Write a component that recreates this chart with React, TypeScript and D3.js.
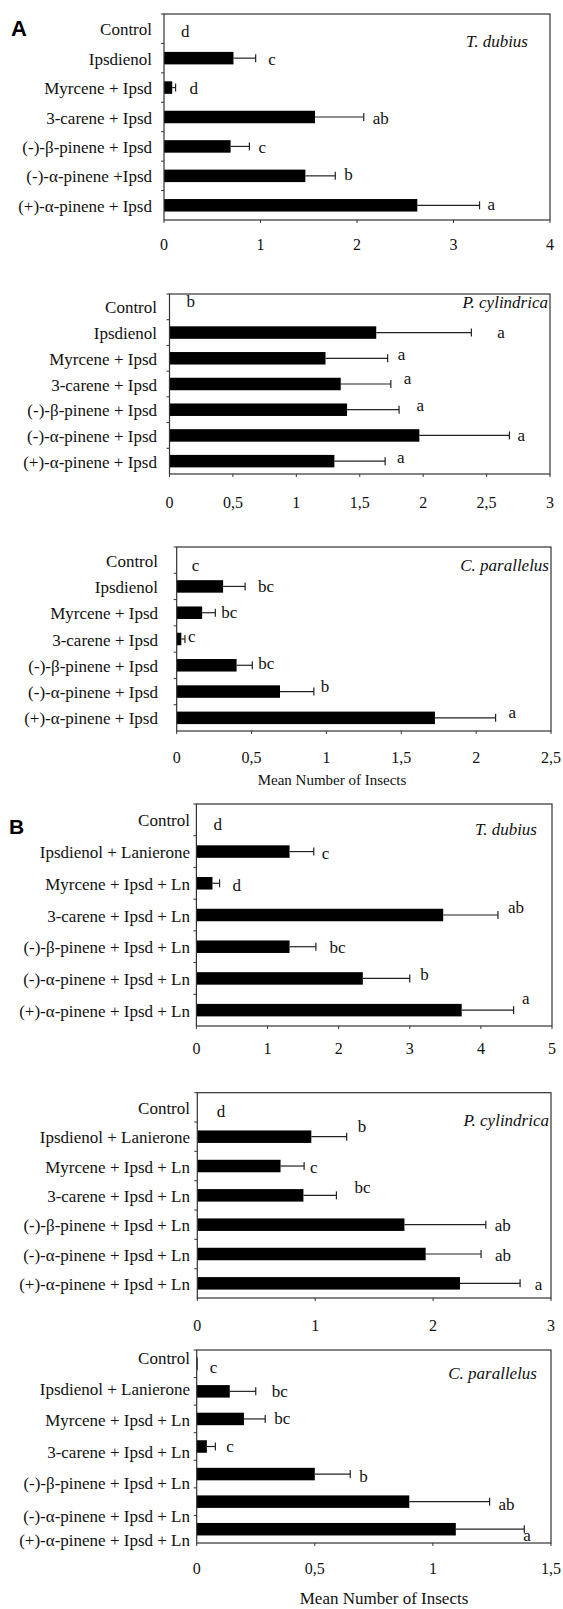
import React from "react";
import * as d3 from "d3";

// ---------- data ----------
const labelsA1 = ["Control", "Ipsdienol", "Myrcene + Ipsd", "3-carene + Ipsd", "(-)-β-pinene + Ipsd", "(-)-α-pinene +Ipsd", "(+)-α-pinene + Ipsd"];
const labelsA = ["Control", "Ipsdienol", "Myrcene + Ipsd", "3-carene + Ipsd", "(-)-β-pinene + Ipsd", "(-)-α-pinene + Ipsd", "(+)-α-pinene + Ipsd"];
const labelsB = ["Control", "Ipsdienol + Lanierone", "Myrcene + Ipsd + Ln", "3-carene + Ipsd + Ln", "(-)-β-pinene + Ipsd + Ln", "(-)-α-pinene + Ipsd + Ln", "(+)-α-pinene + Ipsd + Ln"];

const meansA1 = [0, 0.72, 0.085, 1.565, 0.69, 1.465, 2.625];
const seA1 = [0, 0.23, 0.035, 0.505, 0.195, 0.31, 0.645];
const lettersA1 = ["d", "c", "d", "ab", "c", "b", "a"];

const meansA2 = [0, 1.63, 1.23, 1.35, 1.4, 1.97, 1.3];
const seA2 = [0, 0.75, 0.49, 0.395, 0.41, 0.71, 0.4];
const lettersA2 = ["b", "a", "a", "a", "a", "a", "a"];

const meansA3 = [0, 0.31, 0.17, 0.031, 0.4, 0.69, 1.725];
const seA3 = [0, 0.147, 0.088, 0.024, 0.105, 0.226, 0.405];
const lettersA3 = ["c", "bc", "bc", "c", "bc", "b", "a"];

const meansB1 = [0, 1.31, 0.226, 3.47, 1.31, 2.34, 3.73];
const seB1 = [0, 0.34, 0.1, 0.77, 0.37, 0.66, 0.73];
const lettersB1 = ["d", "c", "d", "ab", "bc", "b", "a"];

const meansB2 = [0, 0.967, 0.706, 0.9, 1.757, 1.937, 2.228];
const seB2 = [0, 0.3, 0.2, 0.28, 0.69, 0.47, 0.51];
const lettersB2 = ["d", "b", "c", "bc", "ab", "ab", "a"];

const meansB3 = [0.004, 0.14, 0.2, 0.043, 0.5, 0.9, 1.097];
const seB3 = [0, 0.11, 0.09, 0.036, 0.15, 0.34, 0.29];
const lettersB3 = ["c", "bc", "bc", "c", "b", "ab", "a"];

const speciesT = "T. dubius";
const speciesP = "P. cylindrica";
const speciesC = "C. parallelus";
const axisTitle = "Mean Number of Insects";

// ---------- layout / style ----------
const SERIF = "'Liberation Serif', 'Times New Roman', serif";
const SANS = "'Liberation Sans', Arial, sans-serif";

type Panel = {
  labels: string[]; means: number[]; se: number[]; letters: string[];
  species: string; max: number; step: number;
  x0: number; x1: number; y0: number; y1: number;
  labelX: number; tickY: number; spX: number; spY: number;
  lDx: number[]; lDy: number[]; catDy?: number[];
  title?: { x: number; y: number; size: number };
};

const panels: Panel[] = [
  { labels: labelsA1, means: meansA1, se: seA1, letters: lettersA1, species: speciesT, max: 4, step: 1,
    x0: 164, x1: 550, y0: 14, y1: 220, labelX: 152, tickY: 244, spX: 528, spY: 41,
    lDx: [17, 12.5, 14, 9, 9, 9, 8], lDy: [3, 1, 1, 1, 1, -1, -1] },
  { labels: labelsA, means: meansA2, se: seA2, letters: lettersA2, species: speciesP, max: 3, step: 0.5,
    x0: 169.5, x1: 550, y0: 294, y1: 474, labelX: 157, tickY: 502, spX: 548, spY: 302,
    lDx: [17, 26, 10, 13, 17.5, 8, 12], lDy: [-5, 0, -3.5, -6, -4.3, 0, -4] },
  { labels: labelsA, means: meansA3, se: seA3, letters: lettersA3, species: speciesC, max: 2.5, step: 0.5,
    x0: 176.7, x1: 551, y0: 547, y1: 731, labelX: 158, tickY: 757, spX: 549, spY: 565,
    lDx: [15, 13, 6, 3, 6, 7, 13], lDy: [5, 0, 0, -3, -2, -5, -5],
    title: { x: 332, y: 780, size: 15 } },
  { labels: labelsB, means: meansB1, se: seB1, letters: lettersB1, species: speciesT, max: 5, step: 1,
    x0: 196.4, x1: 552, y0: 804, y1: 1026, labelX: 190, tickY: 1048, spX: 537, spY: 829,
    lDx: [17, 8, 13, 10, 13.5, 10.5, 8.5], lDy: [5, 2, 2, -8, 1, -4, -12] },
  { labels: labelsB, means: meansB2, se: seB2, letters: lettersB2, species: speciesP, max: 3, step: 1,
    x0: 197.3, x1: 551, y0: 1092.7, y1: 1298, labelX: 190, tickY: 1325, spX: 549, spY: 1120,
    lDx: [19.5, 11, 6, 18, 9, 14, 14.7], lDy: [4, -10, 1, -8, 1, 1, 1] },
  { labels: labelsB, means: meansB3, se: seB3, letters: lettersB3, species: speciesC, max: 1.5, step: 0.5,
    x0: 196.7, x1: 551, y0: 1350, y1: 1543, labelX: 190, tickY: 1568, spX: 537, spY: 1373,
    lDx: [12, 16, 9, 11, 9, 9, -1], lDy: [4, 0, 0, 0, 2, 3, 6], catDy: [-5, -1.5, 1.5, 5.5, 9.5, 15, 11],
    title: { x: 384, y: 1598, size: 17 } },
];

const fmt = (v: number) => String(v).replace(".", ",");

function PanelView({ p }: { p: Panel }) {
  const x = d3.scaleLinear().domain([0, p.max]).range([p.x0, p.x1]);
  const y = d3.scaleBand<number>().domain(p.labels.map((_, i) => i)).range([p.y0, p.y1]);
  const bw = y.bandwidth();
  const barH = 12.5;
  const ticks = d3.range(0, p.max + p.step / 2, p.step);
  return (
    <g>
      {p.means.map((m, i) => {
        const cy = (y(i) as number) + bw / 2;
        const e = m + p.se[i];
        return (
          <g key={i}>
            {m > 0 && <rect x={x(0)} y={cy - barH / 2} width={x(m) - x(0)} height={barH} fill="#000" />}
            {p.se[i] > 0 && (
              <g stroke="#222" strokeWidth={1.2}>
                <line x1={x(m)} x2={x(e)} y1={cy} y2={cy} />
                <line x1={x(e)} x2={x(e)} y1={cy - 4} y2={cy + 4} />
              </g>
            )}
            <text x={x(e) + p.lDx[i]} y={cy + p.lDy[i]} dominantBaseline="central" fontFamily={SERIF} fontSize={17} fill="#111">
              {p.letters[i]}
            </text>
            <text x={p.labelX} y={cy + (p.catDy ? p.catDy[i] : 1)} dominantBaseline="central" textAnchor="end" fontFamily={SERIF} fontSize={17} fill="#111">
              {p.labels[i]}
            </text>
          </g>
        );
      })}
      <rect x={p.x0} y={p.y0} width={p.x1 - p.x0} height={p.y1 - p.y0} fill="none" stroke="#333" strokeWidth={1.2} />
      {p.labels.map((_, i) => (
        <line key={"yt" + i} x1={p.x0 - 3} x2={p.x0} y1={(y(i) as number)} y2={(y(i) as number)} stroke="#333" strokeWidth={1} />
      ))}
      {ticks.map((t) => (
        <g key={"xt" + t}>
          <line x1={x(t)} x2={x(t)} y1={p.y1} y2={p.y1 + 3} stroke="#333" strokeWidth={1} />
          <text x={x(t)} y={p.tickY} textAnchor="middle" dominantBaseline="central" fontFamily={SERIF} fontSize={16} fill="#111">
            {fmt(t)}
          </text>
        </g>
      ))}
      <text x={p.spX} y={p.spY} textAnchor="end" dominantBaseline="central" fontFamily={SERIF} fontStyle="italic" fontSize={17} fill="#111">
        {p.species}
      </text>
      {p.title && (
        <text x={p.title.x} y={p.title.y} textAnchor="middle" dominantBaseline="central" fontFamily={SERIF} fontSize={p.title.size} fill="#111">
          {axisTitle}
        </text>
      )}
    </g>
  );
}

export default function App() {
  return (
    <svg width={563} height={1609} style={{ position: "absolute", left: 0, top: 0, background: "#fff" }}>
      <rect x={0} y={0} width={563} height={1609} fill="#fff" />
      <text x={11} y={36} fontFamily={SANS} fontWeight="bold" fontSize={22} fill="#000">A</text>
      <text x={9} y={834} fontFamily={SANS} fontWeight="bold" fontSize={21} fill="#000">B</text>
      {panels.map((p, i) => (
        <PanelView key={i} p={p} />
      ))}
    </svg>
  );
}
